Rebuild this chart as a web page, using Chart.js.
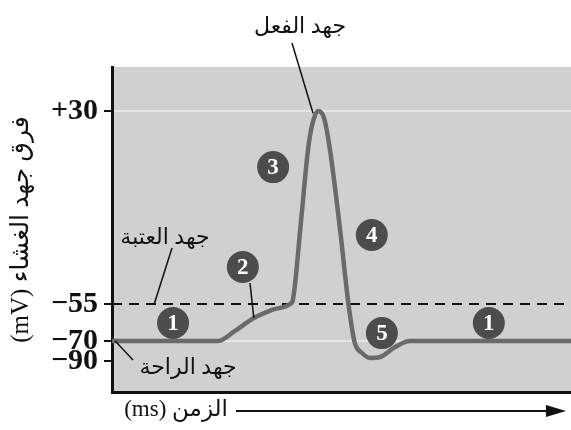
<!DOCTYPE html>
<html>
<head>
<meta charset="utf-8">
<script src="https://cdn.jsdelivr.net/npm/chart.js@4/dist/chart.umd.min.js"></script>
<style>
  html, body { margin: 0; padding: 0; background: #fff; }
  #wrap { width: 571px; height: 430px; }
</style>
</head>
<body>
<div id="wrap"><canvas id="chart" width="571" height="430"></canvas></div>
<script>
// ── Datos ──
const TIME_MS    = [0, 2.31, 2.68, 3.09, 3.49, 3.88, 3.94, 4.10, 4.27, 4.36, 4.49, 4.62, 4.75, 4.97, 5.14, 5.21, 5.29, 5.45, 5.62, 5.84, 6.17, 6.49, 10];
const VOLTAGE_MV = [-70, -70, -65.9, -60.7, -57.4, -55, -53.2, -22.4, 12.8, 23.8, 30, 26.9, 12.8, -22.4, -53.2, -62.7, -72, -82, -87, -86, -76, -70, -70];
const TIME_RANGE = [0, 10];
const THRESHOLD_MV = -55;
const Y_TICKS_MV = [30, -55, -70, -90];

// fases (círculos numerados)
const BADGE_LABELS  = ['1', '2', '3', '4', '5', '1'];
const BADGE_TIME_MS = [1.33, 2.85, 3.51, 5.66, 5.88, 8.21];
const BADGE_MV      = [-62.7, -38.7, 5.3, -24.6, -66.8, -62.7];

// rótulos con línea guía
const CALLOUT_LABELS = ['جهد الفعل', 'جهد العتبة', 'جهد الراحة', ''];
const CALLOUT_TIP_MS = [4.38, 0.92, 0.07, 3.09];
const CALLOUT_TIP_MV = [29, -55, -70, -60.7];

const Y_TITLE = 'فرق جهد الغشاء (mV)';
const X_TITLE = 'الزمن (ms)';

// ── Estilo / maqueta ──
const FONT_FAMILY = '"Liberation Serif", "DejaVu Sans", serif';
const PLOT_BG     = '#d0d0d0';
const CURVE_COLOR = '#6a6a6a';
const BADGE_COLOR = '#4c4c4c';
// el eje y del original no es lineal: posición relativa de cada valor
const Y_WARP = [[-90, 0.0954], [-70, 0.1569], [-55, 0.2708], [30, 0.8646]];
const CALLOUT_TEXT_POS   = [[300, 27], [165, 238], [188, 368], null];
const CALLOUT_LINE_START = [[292, 43], [172, 248], [133, 360], [250, 283]];

function mvToFrac(v) {
  let i = 0;
  while (i < Y_WARP.length - 2 && v > Y_WARP[i + 1][0]) i++;
  const [v0, f0] = Y_WARP[i], [v1, f1] = Y_WARP[i + 1];
  return f0 + (v - v0) * (f1 - f0) / (v1 - v0);
}

function fracToMv(f) {
  let i = 0;
  while (i < Y_WARP.length - 2 && f > Y_WARP[i + 1][1]) i++;
  const [v0, f0] = Y_WARP[i], [v1, f1] = Y_WARP[i + 1];
  return v0 + (f - f0) * (v1 - v0) / (f1 - f0);
}

class WarpedScale extends Chart.LinearScale {
  static id = 'warped';
  static defaults = Chart.LinearScale.defaults;
  getPixelForValue(v) { return this.getPixelForDecimal(mvToFrac(v)); }
  getValueForPixel(p) { return fracToMv(this.getDecimalForPixel(p)); }
}
Chart.register(WarpedScale);

const decor = {
  id: 'decor',
  beforeDraw(chart) {
    const { ctx, chartArea: a } = chart;
    ctx.save();
    ctx.fillStyle = PLOT_BG;
    ctx.fillRect(a.left, a.top, a.right - a.left, a.bottom - a.top);
    ctx.restore();
  },
  afterDatasetsDraw(chart) {
    const { ctx, scales: { x, y } } = chart;
    ctx.save();
    // líneas guía y textos
    ctx.strokeStyle = '#111';
    ctx.lineWidth = 1.5;
    CALLOUT_LABELS.forEach((txt, i) => {
      const [sx, sy] = CALLOUT_LINE_START[i];
      ctx.beginPath();
      ctx.moveTo(sx, sy);
      ctx.lineTo(x.getPixelForValue(CALLOUT_TIP_MS[i]), y.getPixelForValue(CALLOUT_TIP_MV[i]));
      ctx.stroke();
      if (txt) {
        const [tx, ty] = CALLOUT_TEXT_POS[i];
        ctx.fillStyle = '#111';
        ctx.font = '22px ' + FONT_FAMILY;
        ctx.direction = 'rtl';
        ctx.textAlign = 'center';
        ctx.textBaseline = 'middle';
        ctx.fillText(txt, tx, ty);
      }
    });
    // círculos numerados
    BADGE_LABELS.forEach((lab, i) => {
      const px = x.getPixelForValue(BADGE_TIME_MS[i]);
      const py = y.getPixelForValue(BADGE_MV[i]);
      ctx.beginPath();
      ctx.arc(px, py, 16, 0, Math.PI * 2);
      ctx.fillStyle = BADGE_COLOR;
      ctx.fill();
      ctx.fillStyle = '#fff';
      ctx.direction = 'ltr';
      ctx.font = 'bold 23px ' + FONT_FAMILY;
      ctx.textAlign = 'center';
      ctx.textBaseline = 'middle';
      ctx.fillText(lab, px, py + 1);
    });
    ctx.restore();
  },
  afterDraw(chart) {
    const { ctx } = chart;
    ctx.save();
    // título del eje x con flecha
    ctx.fillStyle = '#111';
    ctx.font = '23px ' + FONT_FAMILY;
    ctx.direction = 'rtl';
    ctx.textAlign = 'right';
    ctx.textBaseline = 'middle';
    ctx.fillText(X_TITLE, 228, 410);
    ctx.strokeStyle = '#111';
    ctx.lineWidth = 2;
    ctx.beginPath();
    ctx.moveTo(236, 411);
    ctx.lineTo(550, 411);
    ctx.stroke();
    ctx.beginPath();
    ctx.moveTo(566, 411);
    ctx.lineTo(546, 405);
    ctx.lineTo(546, 417);
    ctx.closePath();
    ctx.fill();
    ctx.restore();
  }
};

const curvePoints = TIME_MS.map((t, i) => ({ x: t, y: VOLTAGE_MV[i] }));
const thresholdPoints = TIME_RANGE.map(t => ({ x: t, y: THRESHOLD_MV }));

new Chart(document.getElementById('chart').getContext('2d'), {
  type: 'line',
  data: {
    datasets: [
      {
        data: curvePoints,
        borderColor: CURVE_COLOR,
        borderWidth: 4.5,
        pointRadius: 0,
        cubicInterpolationMode: 'monotone',
        borderJoinStyle: 'round',
        borderCapStyle: 'round',
      },
      {
        data: thresholdPoints,
        borderColor: '#111',
        borderWidth: 2,
        borderDash: [10, 7],
        pointRadius: 0,
      },
    ],
  },
  options: {
    responsive: false,
    animation: false,
    layout: { padding: { top: 67, left: 0, right: 0, bottom: 0 } },
    plugins: { legend: { display: false }, tooltip: { enabled: false } },
    scales: {
      x: {
        type: 'linear',
        min: TIME_RANGE[0],
        max: TIME_RANGE[1],
        ticks: { display: false },
        grid: { display: false },
        border: { color: '#111', width: 3 },
        afterFit: s => { s.height = 38; },
      },
      y: {
        type: 'warped',
        position: 'left',
        afterBuildTicks: s => { s.ticks = Y_TICKS_MV.map(v => ({ value: v })); },
        afterFit: s => { s.width = 112; },
        ticks: {
          autoSkip: false,
          padding: 6,
          color: '#111',
          font: { family: FONT_FAMILY, size: 30, weight: 'bold' },
          callback: v => (v > 0 ? '+' + v : '\u2212' + Math.abs(v)),
        },
        grid: {
          color: c => (c.tick && (c.tick.value === 30 || c.tick.value === -70)) ? '#e6e6e6' : 'rgba(0,0,0,0)',
          lineWidth: 2,
          tickColor: '#111',
          tickLength: 8,
          tickWidth: 2,
        },
        border: { color: '#111', width: 3 },
        title: {
          display: true,
          text: '\u202B' + Y_TITLE + '\u202C',
          color: '#111',
          font: { family: FONT_FAMILY, size: 25 },
          padding: { top: 6, bottom: 0 },
        },
      },
    },
  },
  plugins: [decor],
});
</script>
</body>
</html>
